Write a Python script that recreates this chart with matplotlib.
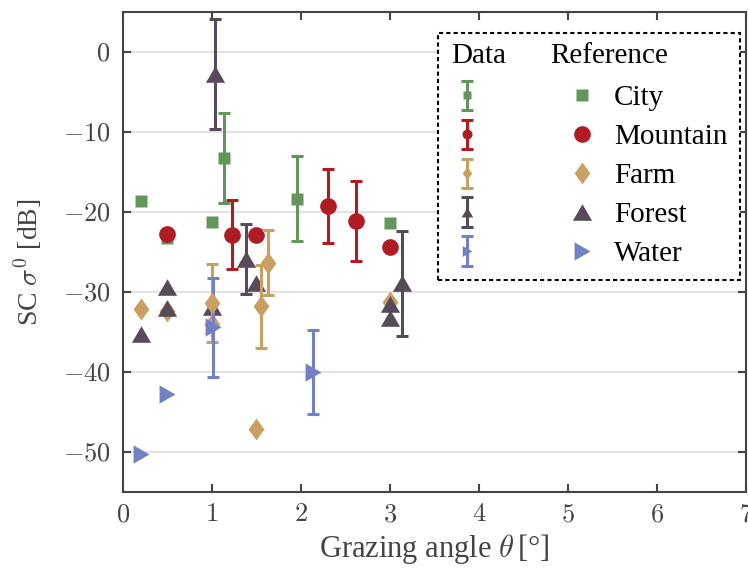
import matplotlib
matplotlib.use('Agg')
import matplotlib.pyplot as plt
import numpy as np
from matplotlib.legend_handler import HandlerBase, HandlerErrorbar
from matplotlib.lines import Line2D
from matplotlib.ticker import FuncFormatter

plt.rcParams['font.family'] = ['Liberation Serif', 'DejaVu Serif']
plt.rcParams['mathtext.fontset'] = 'cm'

# Categories and colours
categories = ['City', 'Mountain', 'Farm', 'Forest', 'Water']
colors = ['#63965a', '#b01c24', '#c9a063', '#574b5a', '#7381c2']

# marker shapes (diamond a bit slim, triangles equilateral)
diamond = [(0, 1), (0.72, 0), (0, -1), (-0.72, 0)]
tri_up = [(0, 0.866), (1, -0.866), (-1, -0.866)]
tri_right = [(0.866, 0), (-0.866, 1), (-0.866, -1)]
markers = ['s', 'o', diamond, tri_up, tri_right]
msizes = [9.2, 12, 15.8, 13.8, 13.2]

# Reference points (angle, sigma0 dB)
ref_x = {
    'City': [0.2, 0.5, 1.0, 3.0],
    'Mountain': [0.5, 1.5, 3.0],
    'Farm': [0.2, 0.5, 1.0, 1.5, 3.0],
    'Forest': [0.2, 0.5, 0.5, 1.0, 1.5, 3.0, 3.0],
    'Water': [0.2, 0.5],
}
ref_y = {
    'City': [-18.6, -23.2, -21.2, -21.3],
    'Mountain': [-22.7, -22.9, -24.3],
    'Farm': [-32.1, -32.4, -34.0, -47.1, -31.3],
    'Forest': [-35.2, -29.4, -32.0, -31.9, -28.8, -31.5, -33.2],
    'Water': [-50.2, -42.8],
}

# Measured data with error (half width, dB)
data_x = {
    'City': [1.13, 1.96],
    'Mountain': [1.23, 2.30, 2.62],
    'Farm': [1.00, 1.55, 1.63],
    'Forest': [1.03, 1.38, 3.13],
    'Water': [1.01, 2.13],
}
data_y = {
    'City': [-13.2, -18.3],
    'Mountain': [-22.8, -19.2, -21.1],
    'Farm': [-31.4, -31.8, -26.3],
    'Forest': [-2.7, -25.9, -28.9],
    'Water': [-34.4, -40.0],
}
data_err = {
    'City': [5.6, 5.3],
    'Mountain': [4.3, 4.6, 5.0],
    'Farm': [4.9, 5.2, 4.1],
    'Forest': [6.9, 4.4, 6.6],
    'Water': [6.2, 5.3],
}


class TextHandle:
    def __init__(self, text, dx=0.0):
        self.text = text
        self.dx = dx


class HandlerText(HandlerBase):
    def create_artists(self, legend, orig_handle, xdescent, ydescent,
                       width, height, fontsize, trans):
        t = matplotlib.text.Text(-xdescent + orig_handle.dx, -ydescent + height / 2,
                                 orig_handle.text, fontsize=fontsize,
                                 va='center', ha='left', transform=trans)
        return [t]


fig = plt.figure(figsize=(7.48, 5.71), dpi=100)
ax = fig.add_axes([0.1644, 0.1384, 0.8329, 0.8401])

data_handles = []
ref_handles = []
for cat, c, m, ms in zip(categories, colors, markers, msizes):
    ax.plot(ref_x[cat], ref_y[cat], ls='none', marker=m, ms=ms, color=c,
            mec='none', zorder=3)
    ax.errorbar(data_x[cat], data_y[cat], yerr=data_err[cat], ls='none',
                marker=m, ms=ms, color=c, mec='none', elinewidth=2.2,
                capsize=4.5, capthick=2.2, zorder=4)
    # legend proxies
    eb = ax.errorbar([np.nan], [np.nan], yerr=[1], ls='none', marker=m,
                     ms=ms * 0.6, color=c, mec='none', elinewidth=2.2,
                     capsize=4.5, capthick=2.2)
    data_handles.append(eb)
    ref_handles.append(Line2D([], [], ls='none', marker=m, ms=ms, color=c, mec='none'))

ax.set_xlim(0, 7)
ax.set_ylim(-55, 5)
ax.set_xticks(range(0, 8))
ax.set_yticks([-50, -40, -30, -20, -10, 0])
fmt = FuncFormatter(lambda v, p: f'${v:g}$')
ax.xaxis.set_major_formatter(fmt)
ax.yaxis.set_major_formatter(fmt)
ax.tick_params(direction='in', length=6, width=1.5, colors='#444444',
               labelsize=19, top=True, right=True, pad=9)
for s in ax.spines.values():
    s.set_color('#444444')
    s.set_linewidth(1.5)
ax.yaxis.grid(True, color='#e3e3e3', linewidth=1.5)
ax.set_axisbelow(True)

ax.set_xlabel(r'Grazing angle $\theta\,$[°]', fontsize=22, color='#444444', labelpad=4)
ax.set_ylabel(r'SC $\sigma^{\mathit{0}}$ [dB]', fontsize=20, color='#444444')
ax.yaxis.set_label_coords(-0.127, 0.48)

handles = [TextHandle('Data', 0)] + data_handles + [TextHandle('Reference', -11)] + ref_handles
labels = [''] * 6 + [''] + categories
leg = ax.legend(handles, labels, ncol=2, loc='upper right',
                bbox_to_anchor=(0.991, 0.957), borderaxespad=0, fontsize=21,
                fancybox=False, edgecolor='black', framealpha=1,
                handlelength=1.13, handletextpad=0.53, columnspacing=2.26,
                labelspacing=0.43, borderpad=0.45,
                handler_map={TextHandle: HandlerText(),
                             type(data_handles[0]): HandlerErrorbar(yerr_size=0.5)})
leg.get_frame().set_linestyle((0, (2, 1.5)))
leg.get_frame().set_linewidth(1.5)

fig.savefig('out.png', dpi=100)
